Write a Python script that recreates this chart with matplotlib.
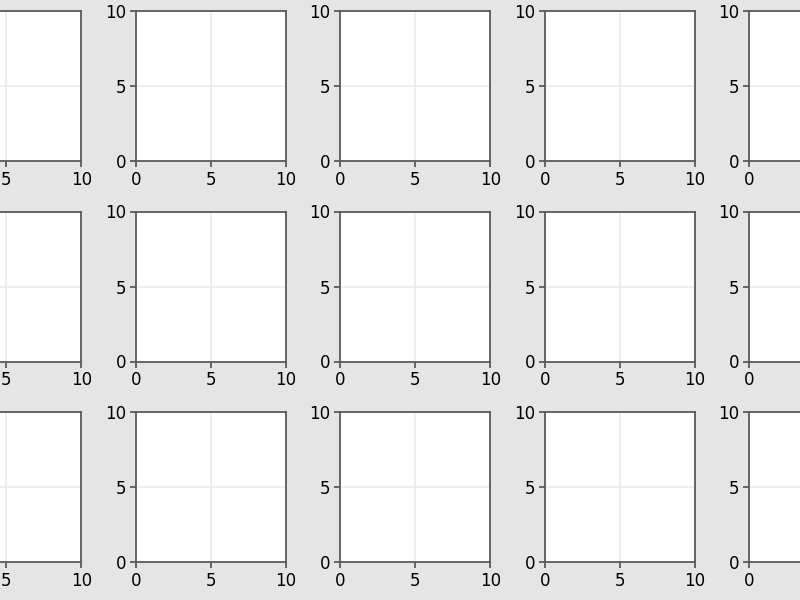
import numpy as np
import matplotlib.pyplot as plt

# Grid of empty panels, partly cut off at the figure edges
n_rows = 3
n_cols = 5
x_limits = [0, 10]
y_limits = [0, 10]
tick_values = [0, 5, 10]

fig = plt.figure(figsize=(8, 6), dpi=100, facecolor='#e5e5e5')

W, H = 800.0, 600.0
box = 150.0
left0, dx = -68.7, 204.5
top0, dy = 11.0, 200.5

for r in range(n_rows):
    for c in range(n_cols):
        x0 = left0 + c * dx
        y0 = top0 + r * dy
        ax = fig.add_axes([x0 / W, (H - y0 - box) / H, box / W, box / H])
        ax.set_facecolor('white')
        ax.set_xlim(x_limits); ax.set_ylim(y_limits)
        ax.set_xticks(tick_values); ax.set_yticks(tick_values)
        ax.grid(True, color='#ebebeb', linewidth=1.2)
        ax.set_axisbelow(True)
        for s in ax.spines.values():
            s.set_color('#5a5a5a')
            s.set_linewidth(1.3)
        ax.tick_params(colors='#5a5a5a', labelcolor='black', labelsize=12,
                       length=4, width=1.3, pad=3)

fig.savefig('out.png', dpi=100, facecolor=fig.get_facecolor())
